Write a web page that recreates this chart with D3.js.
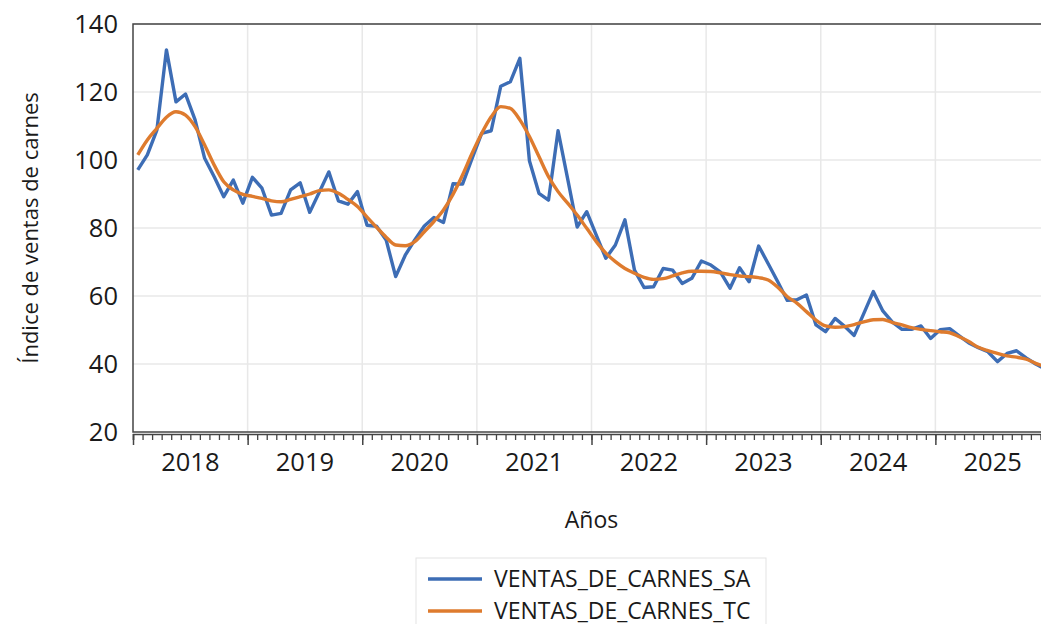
<!DOCTYPE html>
<html>
<head>
<meta charset="utf-8">
<script src="https://cdn.jsdelivr.net/npm/d3@7"></script>
<style>
  body { margin: 0; background: #fff; }
  svg { display: block; font-family: "Open Sans", "Noto Sans", sans-serif; }
</style>
</head>
<body>
<svg id="chart" width="1041" height="624"></svg>
<script>
const years = ["2018", "2019", "2020", "2021", "2022", "2023", "2024", "2025"];
const yTicks = [20, 40, 60, 80, 100, 120, 140];

// monthly, Jan 2018 .. Dec 2025
const ventasSA = [
  97.1, 101.5, 108.8, 132.4, 117.1, 119.4, 111.8, 100.5, 95.1, 89.2, 94.1, 87.3,
  94.9, 91.7, 83.8, 84.3, 91.2, 93.3, 84.6, 90.5, 96.5, 88.0, 87.0, 90.7,
  80.8, 80.5, 76.5, 65.7, 72.0, 76.5, 80.6, 83.1, 81.6, 93.0, 92.9, 100.5,
  107.8, 108.6, 121.7, 123.0, 129.9, 99.8, 90.2, 88.2, 108.6, 94.5, 80.3, 84.8,
  77.9, 71.1, 75.0, 82.4, 67.6, 62.5, 62.7, 68.1, 67.6, 63.7, 65.2, 70.3,
  69.1, 67.0, 62.3, 68.3, 64.2, 74.7, 69.5, 64.2, 58.7, 58.9, 60.3, 51.5,
  49.5, 53.4, 51.1, 48.4, 54.8, 61.3, 55.6, 52.3, 50.2, 50.2, 51.2, 47.5,
  50.1, 50.4, 48.3, 46.2, 44.8, 43.6, 40.7, 43.1, 43.9, 41.8, 40.0, 38.5
];
const ventasTC = [
  101.5, 105.9, 109.3, 112.6, 114.2, 113.2, 109.8, 104.4, 98.5, 93.6, 91.2, 89.9,
  89.3, 88.7, 88.0, 87.7, 88.4, 89.2, 90.0, 91.0, 91.2, 90.2, 88.4, 86.3,
  83.2, 80.2, 77.3, 75.0, 74.8, 76.0, 78.9, 81.9, 85.3, 89.9, 95.6, 102.0,
  107.8, 112.7, 115.7, 115.2, 111.8, 106.9, 101.0, 95.1, 90.7, 87.3, 83.8, 79.9,
  76.0, 72.6, 70.1, 68.1, 66.7, 65.5, 64.9, 65.1, 65.9, 66.8, 67.3, 67.3,
  67.2, 66.8, 66.3, 65.9, 65.7, 65.4, 64.7, 62.6, 59.8, 57.9, 55.4, 52.9,
  51.2, 50.8, 51.0, 51.6, 52.4, 53.0, 53.1, 52.2, 51.5, 50.7, 50.2, 49.8,
  49.5, 49.2, 48.0, 46.6, 44.9, 43.9, 43.1, 42.4, 42.0, 41.4, 40.2, 39.2
];
const seriesNames = ["VENTAS_DE_CARNES_SA", "VENTAS_DE_CARNES_TC"];
const colors = ["#3d6db5", "#de7b2e"];

const VARS = { left: 133, right: 1050, top: 24, bottom: 432 };

const svg = d3.select("#chart");
const nMonths = years.length * 12;

const x = d3.scaleLinear().domain([0, nMonths]).range([VARS.left, VARS.right]);
const y = d3.scaleLinear().domain([20, 140]).range([VARS.bottom, VARS.top]);

//Grid
svg.append("g")
  .selectAll("line")
  .data(yTicks.slice(1))
  .join("line")
  .attr("x1", VARS.left).attr("x2", VARS.right)
  .attr("y1", d => y(d)).attr("y2", d => y(d))
  .attr("stroke", "#e8e8e8").attr("stroke-width", 1.5);
svg.append("g")
  .selectAll("line")
  .data(d3.range(1, years.length))
  .join("line")
  .attr("x1", d => x(d * 12)).attr("x2", d => x(d * 12))
  .attr("y1", VARS.top).attr("y2", VARS.bottom)
  .attr("stroke", "#e8e8e8").attr("stroke-width", 1.5);

//Lines (trend drawn smooth)
const lineSA = d3.line().x((d, i) => x(i + 0.5)).y(d => y(d));
const lineTC = d3.line().x((d, i) => x(i + 0.5)).y(d => y(d)).curve(d3.curveMonotoneX);

[[ventasSA, lineSA], [ventasTC, lineTC]].forEach(([s, gen], k) => {
  svg.append("path")
    .datum(s)
    .attr("fill", "none")
    .attr("stroke", colors[k])
    .attr("stroke-width", 3.4)
    .attr("stroke-linejoin", "round")
    .attr("d", gen);
});

//Frame
svg.append("rect")
  .attr("x", VARS.left).attr("y", VARS.top)
  .attr("width", VARS.right - VARS.left).attr("height", VARS.bottom - VARS.top)
  .attr("fill", "none").attr("stroke", "#444").attr("stroke-width", 1.5);

//Y axis
const yAxis = svg.append("g")
  .attr("transform", `translate(${VARS.left},0)`)
  .call(d3.axisLeft(y).tickValues(yTicks).tickSize(0).tickPadding(15));
yAxis.select(".domain").remove();
yAxis.selectAll("text")
  .attr("font-size", 25.5).attr("fill", "#1a1a1a")
  .attr("font-family", "Open Sans, sans-serif");

//X axis, month ticks
const xMinor = svg.append("g")
  .attr("transform", `translate(0,${VARS.bottom + 2})`)
  .call(d3.axisBottom(x).tickValues(d3.range(0, nMonths + 1)).tickSize(6).tickFormat(""));
xMinor.select(".domain").attr("stroke", "#444").attr("stroke-width", 1.5);
xMinor.selectAll(".tick line").attr("stroke", "#444").attr("stroke-width", 1.3);

const xMajor = svg.append("g")
  .attr("transform", `translate(0,${VARS.bottom + 2})`)
  .call(d3.axisBottom(x).tickValues(d3.range(0, nMonths + 1, 12)).tickSize(11).tickFormat(""));
xMajor.select(".domain").remove();
xMajor.selectAll(".tick line").attr("stroke", "#444").attr("stroke-width", 1.5);

//Year labels
svg.append("g")
  .selectAll("text")
  .data(years)
  .join("text")
  .attr("x", (d, i) => x(i * 12 + 6))
  .attr("y", 471)
  .attr("text-anchor", "middle")
  .attr("font-size", 25.5)
  .attr("fill", "#1a1a1a")
  .text(d => d);

//Axis titles
svg.append("text")
  .attr("x", x(nMonths / 2))
  .attr("y", 528)
  .attr("text-anchor", "middle")
  .attr("font-size", 23)
  .attr("fill", "#1a1a1a")
  .text("Años");

svg.append("text")
  .attr("transform", `translate(38,${(VARS.top + VARS.bottom) / 2}) rotate(-90)`)
  .attr("text-anchor", "middle")
  .attr("font-size", 22)
  .attr("fill", "#1a1a1a")
  .text("Índice de ventas de carnes");

//Legend
const legend = svg.append("g").attr("transform", "translate(416,558)");
legend.append("rect")
  .attr("width", 350).attr("height", 80)
  .attr("fill", "#fff").attr("stroke", "#e3e3e3").attr("stroke-width", 1);
seriesNames.forEach((name, k) => {
  const g = legend.append("g").attr("transform", `translate(0,${21 + k * 32})`);
  g.append("line")
    .attr("x1", 12).attr("x2", 66)
    .attr("stroke", colors[k]).attr("stroke-width", 3.4);
  g.append("text")
    .attr("x", 78).attr("y", 7.5)
    .attr("font-size", 23)
    .attr("fill", "#1a1a1a")
    .text(name);
});
</script>
</body>
</html>
